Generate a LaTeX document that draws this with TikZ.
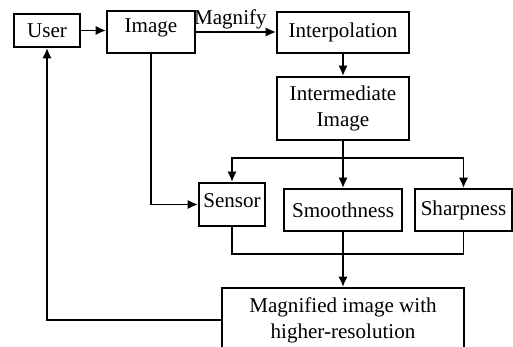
\documentclass[tikz,border=0pt]{standalone}
\usepackage{fontspec}
\setmainfont{Liberation Serif}
\usetikzlibrary{positioning,arrows.meta}
\begin{document}
\begin{tikzpicture}[>={Latex[length=2.1mm,width=1.9mm]}, x=0.02cm, y=-0.02cm, line width=1.1pt,
        font=\fontsize{12}{14.5}\selectfont,
        box/.style={draw, rectangle, align=center, inner xsep=1pt}]
        \useasboundingbox (0,0) rectangle (513,347);
        \node[box, minimum width=1.32cm, minimum height=0.66cm] (user) at (47,30.5){User};
        \node[box, minimum width=1.76cm, inner ysep=1pt, text height=11.4pt, text depth=10.5pt] (image) at (151,32){Image};
        \node[box, minimum width=2.64cm, minimum height=0.82cm] (interp) at (343,32.5){Interpolation};
        \node[box, minimum width=2.64cm, minimum height=1.26cm] (inter) at (343,108.5){Intermediate\\Image};
        \node[box, minimum width=1.32cm, inner ysep=1pt, text height=13pt, text depth=9.5pt] (sensor) at (232,204.5){Sensor};
        \node[box, minimum width=2.36cm, minimum height=0.84cm] (smooth) at (343,210){Smoothness};
        \node[box, minimum width=1.94cm, minimum height=0.84cm] (sharp) at (463.5,210){Sharpness};
        \node[box, minimum width=4.84cm, minimum height=1.3cm, anchor=north] (magnified) at (343,287){Magnified image with\\higher-resolution};
        \coordinate (split) at (343,158);
        \coordinate (merge) at (343,254);
% top row
        \draw[->] (user.east) -- (user.east -| image.west);
        \draw[->] (image.east) -- node[above, pos=.43, inner sep=1pt]{Magnify} (image.east -| interp.west);
        \draw[->] (interp) -- (inter);
% fan out
        \draw (inter) -- (split);
        \draw[->] (split) -| (sensor.north);
        \draw[->] (split) -- (smooth);
        \draw[->] (split) -| (sharp.north);
        \draw[->] (image.south) |- (sensor.west);
% fan in
        \draw (sensor.south) |- (merge) -| (sharp.south);
        \draw (smooth) -- (merge);
        \draw[->] (merge) -- (magnified);
        \draw[->] (magnified.west) -| (user.south);
    \end{tikzpicture}
\end{document}
